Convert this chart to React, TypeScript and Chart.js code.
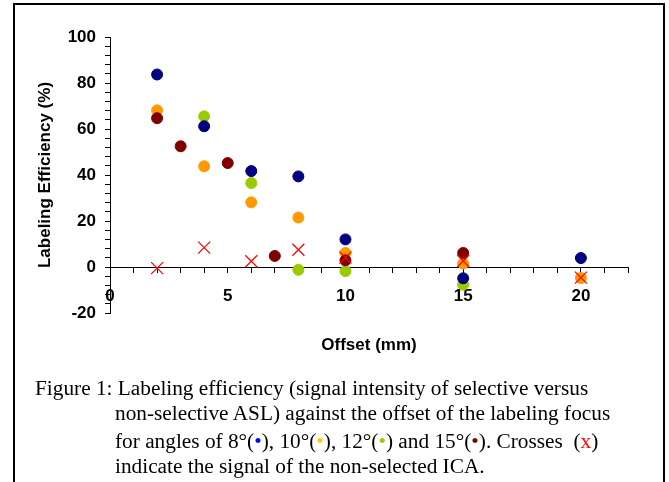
import React, { useEffect, useRef } from 'react';
import { Chart, registerables } from 'chart.js';

Chart.register(...registerables);

// ---- data ----
const offsets8 = [2, 4, 6, 8, 10, 15, 20];
const eff8 = [83.7, 61.2, 41.7, 39.4, 12.0, -4.9, 3.9];

const offsets10 = [2, 4, 6, 8, 10, 15, 20];
const eff10 = [68.1, 43.8, 28.1, 21.5, 6.1, 1.5, -4.8];

const offsets12 = [4, 6, 8, 10, 15];
const eff12 = [65.5, 36.5, -1.2, -1.8, -7.7];

const offsets15 = [2, 3, 5, 7, 10, 15];
const eff15 = [64.7, 52.5, 45.2, 4.8, 2.9, 6.1];

const offsetsICA = [2, 4, 6, 8, 10, 15, 20];
const signalICA = [-0.5, 8.4, 2.5, 7.5, 4.1, 2.6, -4.6];

const xTickLabels = [0, 5, 10, 15, 20];
const yTickLabels = [-20, 0, 20, 40, 60, 80, 100];

const toPoints = (xs: number[], ys: number[]) => xs.map((x, i) => ({ x, y: ys[i] }));

const SANS = "'Liberation Sans', Arial, Helvetica, sans-serif";
const SERIF = "'Liberation Serif', 'Times New Roman', Times, serif";

export default function App() {
  const canvasRef = useRef<HTMLCanvasElement | null>(null);

  useEffect(() => {
    const canvas = canvasRef.current;
    if (!canvas) return;
    const dot = (label: string, xs: number[], ys: number[], color: string, order: number) => ({
      label,
      data: toPoints(xs, ys),
      backgroundColor: color,
      borderColor: color,
      borderWidth: 1,
      pointRadius: 5.5,
      pointStyle: 'circle' as const,
      order,
    });
    const chart = new Chart(canvas, {
      type: 'scatter',
      data: {
        datasets: [
          {
            label: 'non-selected ICA',
            data: toPoints(offsetsICA, signalICA),
            pointStyle: 'crossRot',
            pointRadius: 8.5,
            borderColor: '#FF0000',
            backgroundColor: '#FF0000',
            borderWidth: 1.2,
            order: 0,
          },
          dot('15°', offsets15, eff15, '#800000', 1),
          dot('8°', offsets8, eff8, '#000080', 2),
          dot('12°', offsets12, eff12, '#99CC00', 3),
          dot('10°', offsets10, eff10, '#FF9900', 4),
        ],
      },
      options: {
        animation: false,
        responsive: false,
        maintainAspectRatio: false,
        layout: { padding: { left: 0, right: 41, top: 37, bottom: 89 } },
        plugins: { legend: { display: false }, tooltip: { enabled: false } },
        scales: {
          x: {
            type: 'linear',
            position: { y: 0 },
            min: 0,
            max: 22,
            afterFit: (s: any) => {
              s.height = 88.5;
            },
            ticks: {
              stepSize: 1,
              autoSkip: false,
              maxRotation: 0,
              padding: 14,
              color: '#000',
              font: { family: SANS, size: 17, weight: 'bold' },
              callback: (v: any) => (xTickLabels.includes(Number(v)) ? String(v) : ''),
            },
            grid: { drawOnChartArea: false, tickLength: 5, color: '#000', lineWidth: 1 },
            border: { display: true, color: '#000', width: 1 },
            title: {
              display: true,
              text: 'Offset (mm)',
              color: '#000',
              padding: 0,
              font: { family: SANS, size: 17, weight: 'bold' },
            },
          },
          y: {
            type: 'linear',
            position: 'left',
            min: -20,
            max: 100,
            afterFit: (s: any) => {
              s.width = 110;
            },
            ticks: {
              stepSize: 4,
              autoSkip: false,
              padding: 9,
              color: '#000',
              font: { family: SANS, size: 17, weight: 'bold' },
              callback: (v: any) => (yTickLabels.includes(Number(v)) ? String(v) : ''),
            },
            grid: { drawOnChartArea: false, tickLength: 5, color: '#000', lineWidth: 1 },
            border: { display: true, color: '#000', width: 1 },
            title: {
              display: true,
              text: 'Labeling Efficiency (%)',
              color: '#000',
              padding: { top: 35, bottom: 0 },
              font: { family: SANS, size: 17, weight: 'bold' },
            },
          },
        },
      },
    } as any);
    return () => chart.destroy();
  }, []);

  const lineStyle: React.CSSProperties = {
    position: 'absolute',
    whiteSpace: 'pre',
    fontFamily: SERIF,
    fontSize: '21.3px',
    lineHeight: '25px',
    color: '#000',
  };
  const bullet = (c: string) => <span style={{ color: c }}>•</span>;

  return (
    <div
      style={{
        position: 'absolute',
        left: 0,
        top: 0,
        width: 669,
        height: 482,
        overflow: 'hidden',
        background: '#fff',
      }}
    >
      <div
        style={{
          position: 'absolute',
          left: 13,
          top: 3,
          width: 652,
          height: 520,
          boxSizing: 'border-box',
          border: '2px solid #000',
        }}
      />
      <canvas
        ref={canvasRef}
        width={669}
        height={402}
        style={{ position: 'absolute', left: 0, top: 0, width: 669, height: 402 }}
      />
      <div style={{ ...lineStyle, left: 35, top: 376 }}>
        Figure 1: Labeling efficiency (signal intensity of selective versus
      </div>
      <div style={{ ...lineStyle, left: 115, top: 401 }}>
        non-selective ASL) against the offset of the labeling focus
      </div>
      <div style={{ ...lineStyle, left: 115, top: 429 }}>
        for angles of 8°({bullet('#0000FF')}), 10°({bullet('#FFCC00')}), 12°({bullet('#99CC00')}) and 15°(
        {bullet('#800000')}). Crosses  (<span style={{ color: '#FF0000' }}>x</span>)
      </div>
      <div style={{ ...lineStyle, left: 115, top: 454 }}>
        indicate the signal of the non-selected ICA.
      </div>
    </div>
  );
}
